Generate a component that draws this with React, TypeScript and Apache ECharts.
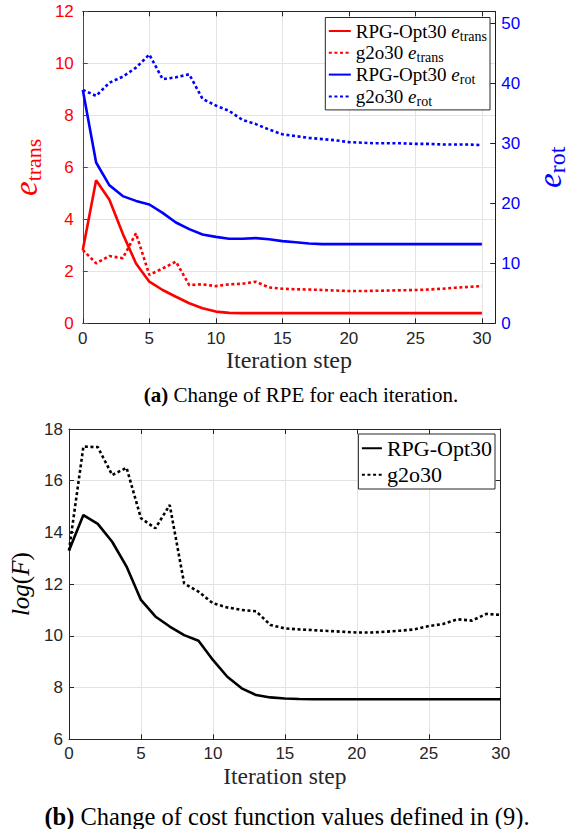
import { useEffect, useRef } from 'react';
import * as echarts from 'echarts';

const steps = [0, 1, 2, 3, 4, 5, 6, 7, 8, 9, 10, 11, 12, 13, 14, 15, 16, 17, 18, 19, 20, 21, 22, 23, 24, 25, 26, 27, 28, 29, 30];
const xTicks = ['0', '5', '10', '15', '20', '25', '30'];

// (a) RPE, left axis (e_trans)
const rpgTrans = [2.82, 5.5, 4.75, 3.45, 2.3, 1.6, 1.28, 1.02, 0.77, 0.58, 0.45, 0.4, 0.39, 0.39, 0.39, 0.39, 0.39, 0.39, 0.39, 0.39, 0.39, 0.39, 0.39, 0.39, 0.39, 0.39, 0.39, 0.39, 0.39, 0.39, 0.39];
const g2oTrans = [2.82, 2.31, 2.59, 2.5, 3.46, 1.86, 2.11, 2.37, 1.47, 1.5, 1.43, 1.5, 1.52, 1.6, 1.38, 1.33, 1.31, 1.3, 1.28, 1.26, 1.24, 1.24, 1.25, 1.26, 1.27, 1.28, 1.3, 1.33, 1.37, 1.4, 1.43];
// (a) RPE, right axis (e_rot)
const rpgRot = [38.9, 26.8, 23.0, 21.2, 20.4, 19.8, 18.4, 16.8, 15.7, 14.8, 14.4, 14.1, 14.1, 14.2, 14.0, 13.7, 13.5, 13.3, 13.2, 13.2, 13.2, 13.2, 13.2, 13.2, 13.2, 13.2, 13.2, 13.2, 13.2, 13.2, 13.2];
const g2oRot = [38.9, 37.9, 40.1, 41.1, 42.6, 44.8, 40.7, 41.0, 41.5, 37.4, 36.3, 35.4, 33.9, 33.2, 32.3, 31.5, 31.2, 30.9, 30.7, 30.5, 30.2, 30.1, 30.0, 30.0, 30.0, 29.9, 29.9, 29.8, 29.8, 29.8, 29.7];
// (b) cost function log(F)
const rpgF = [13.3, 14.67, 14.33, 13.64, 12.68, 11.39, 10.75, 10.36, 10.03, 9.81, 9.07, 8.42, 7.97, 7.71, 7.62, 7.58, 7.56, 7.55, 7.55, 7.55, 7.55, 7.55, 7.55, 7.55, 7.55, 7.55, 7.55, 7.55, 7.55, 7.55, 7.55];
const g2oF = [13.3, 17.32, 17.3, 16.22, 16.5, 14.55, 14.16, 15.06, 12.03, 11.71, 11.26, 11.1, 11.0, 10.95, 10.42, 10.29, 10.25, 10.22, 10.19, 10.16, 10.13, 10.13, 10.16, 10.2, 10.25, 10.38, 10.46, 10.64, 10.59, 10.85, 10.81];

const namesTop = ['RPG-Opt30 e_trans', 'g2o30 e_trans', 'RPG-Opt30 e_rot', 'g2o30 e_rot'];
const namesBottom = ['RPG-Opt30', 'g2o30'];
const captionA = 'Change of RPE for each iteration.';
const captionB = 'Change of cost function values defined in (9).';
const xName = 'Iteration step';

const SERIF = 'Liberation Serif';
const SANS = 'Liberation Sans';
const DARK = '#262626';
const RED = '#ff0000';
const BLUE = '#0000ff';
const DOT = [3, 2.6];

const pairs = (arr: number[]) => steps.map((s, i) => [s, arr[i]]);

export default function App() {
  const ref = useRef<HTMLDivElement>(null);
  useEffect(() => {
    if (!ref.current) return;
    const chart = echarts.init(ref.current, null, { renderer: 'svg' });

    const tickInside = (color: string) => ({ show: true, inside: true, length: 5, lineStyle: { color, width: 1 } });
    const xLabel = (show: boolean) => ({
      show,
      color: DARK,
      fontFamily: SANS,
      fontSize: 17,
      margin: 7,
      showMaxLabel: false,
      formatter: (v: number) => (xTicks.includes(String(v)) ? String(v) : ''),
    });

    const legendRichTop = {
      n: { fontFamily: SERIF, fontSize: 19, color: '#000', lineHeight: 22.5 },
      e: { fontFamily: SERIF, fontSize: 19, fontStyle: 'italic', color: '#000', lineHeight: 22.5 },
      s: { fontFamily: SERIF, fontSize: 14, color: '#000', lineHeight: 22.5, padding: [10, 0, 0, 0] },
    };
    const legendFmtTop: Record<string, string> = {
      'RPG-Opt30 e_trans': '{n|RPG-Opt30 }{e|e}{s|trans}',
      'g2o30 e_trans': '{n|g2o30 }{e|e}{s|trans}',
      'RPG-Opt30 e_rot': '{n|RPG-Opt30 }{e|e}{s|rot}',
      'g2o30 e_rot': '{n|g2o30 }{e|e}{s|rot}',
    };
    const hiddenSymbol = { color: 'rgba(0,0,0,0)', borderColor: 'rgba(0,0,0,0)', borderWidth: 0, opacity: 0 };

    const option: any = {
      animation: false,
      backgroundColor: '#fff',
      grid: [
        { left: 64, top: 11.3, width: 433, height: 312, containLabel: false },
        { left: 67.3, top: 429, width: 433.4, height: 310.3, containLabel: false },
      ],
      xAxis: [
        {
          gridIndex: 0, type: 'value', position: 'bottom', min: 0, max: 31, interval: 5,
          axisLine: { show: true, onZero: false, lineStyle: { color: DARK, width: 1 } },
          axisTick: tickInside(DARK),
          axisLabel: xLabel(true),
          splitLine: { show: true, lineStyle: { color: '#e3e3e3', width: 1 } },
          name: xName, nameLocation: 'middle', nameGap: 25,
          nameTextStyle: { fontFamily: SERIF, fontSize: 24, color: DARK },
        },
        {
          gridIndex: 0, type: 'value', position: 'top', min: 0, max: 31, interval: 5,
          axisLine: { show: true, onZero: false, lineStyle: { color: DARK, width: 1 } },
          axisTick: tickInside(DARK),
          axisLabel: { show: false },
          splitLine: { show: false },
        },
        {
          gridIndex: 1, type: 'value', position: 'bottom', min: 0, max: 30, interval: 5,
          axisLine: { show: true, onZero: false, lineStyle: { color: DARK, width: 1 } },
          axisTick: tickInside(DARK),
          axisLabel: { ...xLabel(true), showMaxLabel: true, margin: 6 },
          splitLine: { show: true, lineStyle: { color: '#e3e3e3', width: 1 } },
          name: xName, nameLocation: 'middle', nameGap: 25,
          nameTextStyle: { fontFamily: SERIF, fontSize: 23.5, color: DARK },
        },
        {
          gridIndex: 1, type: 'value', position: 'top', min: 0, max: 30, interval: 5,
          axisLine: { show: true, onZero: false, lineStyle: { color: DARK, width: 1 } },
          axisTick: tickInside(DARK),
          axisLabel: { show: false },
          splitLine: { show: false },
        },
      ],
      yAxis: [
        {
          gridIndex: 0, type: 'value', position: 'left', min: 0, max: 12, interval: 2,
          axisLine: { show: true, onZero: false, lineStyle: { color: RED, width: 1 } },
          axisTick: tickInside(RED),
          axisLabel: { color: RED, fontFamily: SANS, fontSize: 17, margin: 9 },
          splitLine: { show: true, lineStyle: { color: '#ffd9d9', width: 1 } },
          name: '{e|e}{s|trans}', nameLocation: 'middle', nameRotate: 90, nameGap: 32,
          nameTextStyle: {
            color: RED,
            rich: {
              e: { fontFamily: SERIF, fontSize: 33, fontStyle: 'italic', color: RED, lineHeight: 30 },
              s: { fontFamily: SERIF, fontSize: 22, color: RED, lineHeight: 30, padding: [14, 0, 0, 0] },
            },
          },
        },
        {
          gridIndex: 0, type: 'value', position: 'right', min: 0, max: 52, interval: 10,
          axisLine: { show: true, onZero: false, lineStyle: { color: BLUE, width: 1 } },
          axisTick: tickInside(BLUE),
          axisLabel: { color: BLUE, fontFamily: SANS, fontSize: 17, margin: 6, showMaxLabel: false },
          splitLine: { show: false },
          name: '{e|e}{s|rot}', nameLocation: 'middle', nameRotate: 90, nameGap: 38,
          nameTextStyle: {
            color: BLUE,
            rich: {
              e: { fontFamily: SERIF, fontSize: 33, fontStyle: 'italic', color: BLUE, lineHeight: 30 },
              s: { fontFamily: SERIF, fontSize: 24, color: BLUE, lineHeight: 30, padding: [14, 0, 0, 0] },
            },
          },
        },
        {
          gridIndex: 1, type: 'value', position: 'left', min: 6, max: 18, interval: 2,
          axisLine: { show: true, onZero: false, lineStyle: { color: DARK, width: 1 } },
          axisTick: tickInside(DARK),
          axisLabel: { color: DARK, fontFamily: SANS, fontSize: 17, margin: 6 },
          splitLine: { show: true, lineStyle: { color: '#e3e3e3', width: 1 } },
          name: '{i|log}{p|(}{i|F}{p|)}', nameLocation: 'middle', nameRotate: 90, nameGap: 36,
          nameTextStyle: {
            color: '#000',
            rich: {
              i: { fontFamily: SERIF, fontSize: 25, fontStyle: 'italic', color: '#000' },
              p: { fontFamily: SERIF, fontSize: 25, color: '#000' },
            },
          },
        },
        {
          gridIndex: 1, type: 'value', position: 'right', min: 6, max: 18, interval: 2,
          axisLine: { show: true, onZero: false, lineStyle: { color: DARK, width: 1 } },
          axisTick: tickInside(DARK),
          axisLabel: { show: false },
          splitLine: { show: false },
        },
      ],
      legend: [
        {
          orient: 'vertical', right: 87, top: 17.5,
          padding: [1.5, 3, 1.5, 2.5], itemGap: -2.2, itemWidth: 22, itemHeight: 14,
          backgroundColor: '#fff', borderColor: DARK, borderWidth: 1,
          itemStyle: hiddenSymbol,
          data: namesTop,
          formatter: (name: string) => legendFmtTop[name],
          textStyle: { fontFamily: SERIF, fontSize: 19, color: '#000', rich: legendRichTop },
        },
        {
          orient: 'vertical', right: 82, top: 434,
          padding: [1, 3, 1, 2.5], itemGap: 0, itemWidth: 20, itemHeight: 14,
          backgroundColor: '#fff', borderColor: DARK, borderWidth: 1,
          itemStyle: hiddenSymbol,
          data: namesBottom,
          textStyle: { fontFamily: SERIF, fontSize: 22, color: '#000', lineHeight: 26.5 },
        },
      ],
      series: [
        {
          name: namesTop[0], type: 'line', xAxisIndex: 0, yAxisIndex: 0, data: pairs(rpgTrans),
          symbol: 'none', lineStyle: { color: RED, width: 2.6, type: 'solid' }, itemStyle: { color: RED },
        },
        {
          name: namesTop[1], type: 'line', xAxisIndex: 0, yAxisIndex: 0, data: pairs(g2oTrans),
          symbol: 'none', lineStyle: { color: RED, width: 2.6, type: DOT }, itemStyle: { color: RED },
        },
        {
          name: namesTop[2], type: 'line', xAxisIndex: 0, yAxisIndex: 1, data: pairs(rpgRot),
          symbol: 'none', lineStyle: { color: BLUE, width: 2.6, type: 'solid' }, itemStyle: { color: BLUE },
        },
        {
          name: namesTop[3], type: 'line', xAxisIndex: 0, yAxisIndex: 1, data: pairs(g2oRot),
          symbol: 'none', lineStyle: { color: BLUE, width: 2.6, type: DOT }, itemStyle: { color: BLUE },
        },
        {
          name: namesBottom[0], type: 'line', xAxisIndex: 2, yAxisIndex: 2, data: pairs(rpgF),
          symbol: 'none', lineStyle: { color: '#000', width: 2.6, type: 'solid' }, itemStyle: { color: '#000' },
        },
        {
          name: namesBottom[1], type: 'line', xAxisIndex: 2, yAxisIndex: 2, data: pairs(g2oF),
          symbol: 'none', lineStyle: { color: '#000', width: 2.6, type: DOT }, itemStyle: { color: '#000' },
        },
      ],
      graphic: [
        {
          type: 'text', x: 301, y: 395,
          style: {
            text: '{b|(a)}{n| ' + captionA + '}',
            textAlign: 'center', textVerticalAlign: 'middle',
            rich: {
              b: { fontFamily: SERIF, fontSize: 21, fontWeight: 'bold', fill: '#000' },
              n: { fontFamily: SERIF, fontSize: 21, fill: '#000' },
            },
          },
        },
        {
          type: 'text', x: 287, y: 816,
          style: {
            text: '{b|(b)}{n| ' + captionB + '}',
            textAlign: 'center', textVerticalAlign: 'middle',
            rich: {
              b: { fontFamily: SERIF, fontSize: 24.5, fontWeight: 'bold', fill: '#000' },
              n: { fontFamily: SERIF, fontSize: 24.5, fill: '#000' },
            },
          },
        },
      ],
    };
    chart.setOption(option);
    return () => chart.dispose();
  }, []);
  return <div ref={ref} style={{ position: 'absolute', left: 0, top: 0, width: 577, height: 829 }} />;
}
